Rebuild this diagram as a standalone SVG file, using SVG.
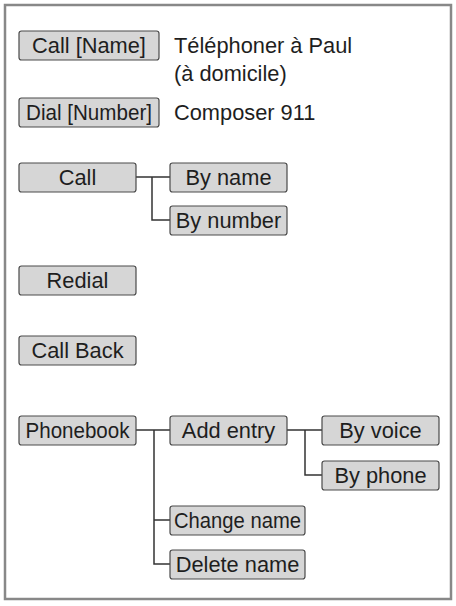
<svg xmlns="http://www.w3.org/2000/svg" width="456" height="606" viewBox="0 0 456 606">
<style>
.box{fill:#d6d6d6;stroke:#4a4a4a;stroke-width:1.2}
.t{font-family:'Liberation Sans',Arial,Helvetica,sans-serif;font-size:21.8px;fill:#1e1e1e}
.c{text-anchor:middle}
.ln{fill:none;stroke:#333;stroke-width:1.5}
</style>
<rect x="5" y="5" width="446" height="594" fill="#fff" stroke="#888" stroke-width="2.5"/>
<g id="connectors">
<path class="ln" d="M136,177H170M152,177V220H170"/>
<path class="ln" d="M136,430H170M154,430V564H170M154,520H170"/>
<path class="ln" d="M287,430H322M305,430V475H322"/>
</g>
<g id="call-name"><rect class="box" x="19" y="31" width="140" height="29" rx="2.5"/><text class="t c" x="89" y="52.5">Call [Name]</text></g>
<g id="call-name-desc"><text class="t" x="174" y="52.5">Téléphoner à Paul</text><text class="t" x="174" y="80.5">(à domicile)</text></g>
<g id="dial-number"><rect class="box" x="19" y="98" width="140" height="29" rx="2.5"/><text class="t c" x="89" y="119.5" textLength="126" lengthAdjust="spacingAndGlyphs">Dial [Number]</text></g>
<g id="dial-number-desc"><text class="t" x="174" y="119.5">Composer 911</text></g>
<g id="call"><rect class="box" x="19" y="163" width="117" height="29" rx="2.5"/><text class="t c" x="77.5" y="184.5">Call</text></g>
<g id="by-name"><rect class="box" x="170" y="163" width="117" height="29" rx="2.5"/><text class="t c" x="228.5" y="184.5">By name</text></g>
<g id="by-number"><rect class="box" x="170" y="206" width="117" height="29" rx="2.5"/><text class="t c" x="228.5" y="227.5">By number</text></g>
<g id="redial"><rect class="box" x="19" y="266" width="117" height="29" rx="2.5"/><text class="t c" x="77.5" y="287.5">Redial</text></g>
<g id="call-back"><rect class="box" x="19" y="336" width="117" height="29" rx="2.5"/><text class="t c" x="77.5" y="357.5">Call Back</text></g>
<g id="phonebook"><rect class="box" x="19" y="416" width="117" height="29" rx="2.5"/><text class="t c" x="77.5" y="437.5" textLength="104" lengthAdjust="spacingAndGlyphs">Phonebook</text></g>
<g id="add-entry"><rect class="box" x="170" y="416" width="117" height="29" rx="2.5"/><text class="t c" x="228.5" y="437.5">Add entry</text></g>
<g id="by-voice"><rect class="box" x="322" y="416" width="117" height="29" rx="2.5"/><text class="t c" x="380.5" y="437.5">By voice</text></g>
<g id="by-phone"><rect class="box" x="322" y="461" width="117" height="29" rx="2.5"/><text class="t c" x="380.5" y="482.5">By phone</text></g>
<g id="change-name"><rect class="box" x="170" y="506" width="135" height="29" rx="2.5"/><text class="t c" x="237.5" y="527.5" textLength="127" lengthAdjust="spacingAndGlyphs">Change name</text></g>
<g id="delete-name"><rect class="box" x="170" y="550" width="135" height="29" rx="2.5"/><text class="t c" x="237.5" y="571.5">Delete name</text></g>
</svg>
